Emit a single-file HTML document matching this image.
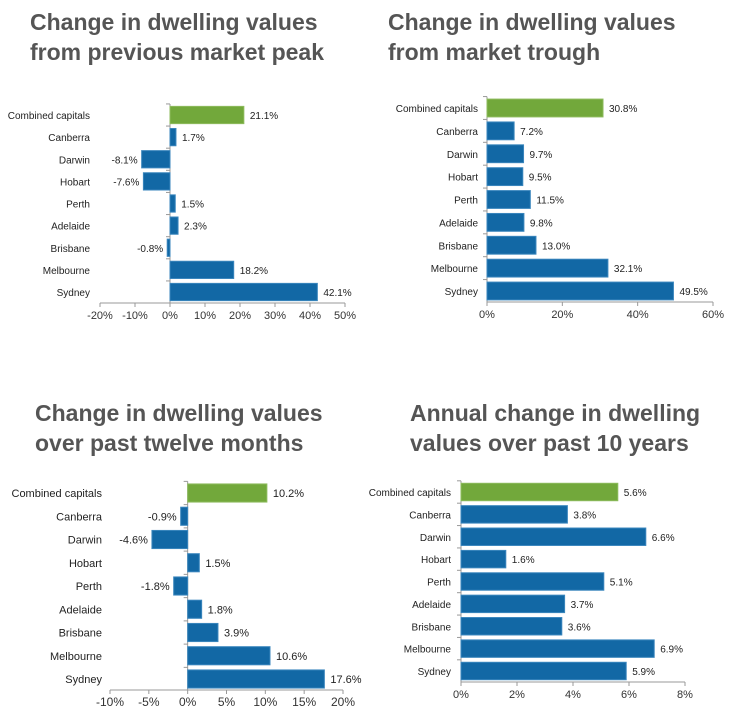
<!DOCTYPE html>
<html><head><meta charset="utf-8"><style>
body{margin:0;background:#fff;width:730px;height:708px;overflow:hidden;font-family:"Liberation Sans",Arial,sans-serif}
svg{position:absolute;left:0;top:0}
</style></head><body>
<svg id="s" width="730" height="708">
<g font-weight="bold" font-size="23" fill="#555">
<text x="30" y="30">Change in dwelling values</text><text x="30" y="60">from previous market peak</text></g>
<g font-weight="bold" font-size="23" fill="#555">
<text x="388" y="30">Change in dwelling values</text><text x="388" y="60">from market trough</text></g>
<g font-weight="bold" font-size="23" fill="#555">
<text x="35" y="421">Change in dwelling values</text><text x="35" y="451">over past twelve months</text></g>
<g font-weight="bold" font-size="23" fill="#555">
<text x="410" y="421">Annual change in dwelling</text><text x="410" y="451">values over past 10 years</text></g>
</svg>
<script>
const categories=["Combined capitals","Canberra","Darwin","Hobart","Perth","Adelaide","Brisbane","Melbourne","Sydney"];
const peakValues=[21.1,1.7,-8.1,-7.6,1.5,2.3,-0.8,18.2,42.1];
const troughValues=[30.8,7.2,9.7,9.5,11.5,9.8,13.0,32.1,49.5];
const twelveMonthValues=[10.2,-0.9,-4.6,1.5,-1.8,1.8,3.9,10.6,17.6];
const tenYearValues=[5.6,3.8,6.6,1.6,5.1,3.7,3.6,6.9,5.9];
const peakTicks=[-20,-10,0,10,20,30,40,50];
const troughTicks=[0,20,40,60];
const twelveTicks=[-10,-5,0,5,10,15,20];
const tenTicks=[0,2,4,6,8];
const NS="http://www.w3.org/2000/svg";
const svg=document.getElementById('s');
function mk(t,a,p){const e=document.createElementNS(NS,t);for(const k in a)e.setAttribute(k,a[k]);p.appendChild(e);return e;}
function chart(name,vals,ticks,o){
  const g=mk('g',{},svg);
  
  
  const fs=o.fs||10;
  const min=ticks[0],max=ticks[ticks.length-1];
  const x=v=>o.x0+(v-min)/(max-min)*(o.x1-o.x0);
  const y=i=>o.yFirst+i*(o.yLast-o.yFirst)/(categories.length-1);
  const step=(o.yLast-o.yFirst)/(categories.length-1);
  const bh=step*0.78;
  const ax=mk('line',{x1:o.x0,x2:o.x1,y1:o.axisY,y2:o.axisY,stroke:'#999','stroke-width':1},g);
  
  
  const ya=mk('line',{x1:x(0),x2:x(0),y1:o.yFirst-step/2,y2:o.axisY,stroke:'#999','stroke-width':1},g);
  
  
  ticks.forEach(t=>{
    mk('line',{x1:x(t),x2:x(t),y1:o.axisY,y2:o.axisY+4,stroke:'#999'},g);
    const tl=mk('text',{x:x(t),y:o.axisY+16,'text-anchor':'middle','font-size':fs+1,fill:'#333'},g);
    tl.textContent=t+'%';
    
    
  });
  categories.forEach((c,i)=>{
    const v=vals[i];
    const cy=y(i);
    mk('line',{x1:x(0)-4,x2:x(0),y1:cy-step/2,y2:cy-step/2,stroke:'#999'},g);
    const cl=mk('text',{x:o.labelX,y:cy+4,'text-anchor':'end','font-size':fs,fill:'#222'},g);
    cl.textContent=c;
    
    
    const xa=x(Math.min(0,v)),xb=x(Math.max(0,v));
    const r=mk('rect',{x:xa,y:cy-bh/2,width:Math.max(1,xb-xa),height:bh,fill:i==0?'#72a83b':'#1268a5',stroke:i==0?'#8dbb5d':'#3a86bd','stroke-width':1},g);
    
    
    const vl=mk('text',{x:v<0?xa-4:xb+6,y:cy+4,'text-anchor':v<0?'end':'start','font-size':fs,fill:'#222'},g);
    vl.textContent=v.toFixed(1)+'%';
    
    
  });
}
chart('chart-peak',peakValues,peakTicks,{x0:100,x1:345,yFirst:115,yLast:292,axisY:303,labelX:90});
chart('chart-trough',troughValues,troughTicks,{x0:487,x1:713,yFirst:108,yLast:291,axisY:302,labelX:478});
chart('chart-twelve-months',twelveMonthValues,twelveTicks,{x0:110,x1:343,yFirst:493,yLast:679,axisY:690,labelX:102,fs:11});
chart('chart-ten-years',tenYearValues,tenTicks,{x0:461,x1:685,yFirst:492,yLast:671,axisY:682,labelX:451});
</script>
</body></html>
